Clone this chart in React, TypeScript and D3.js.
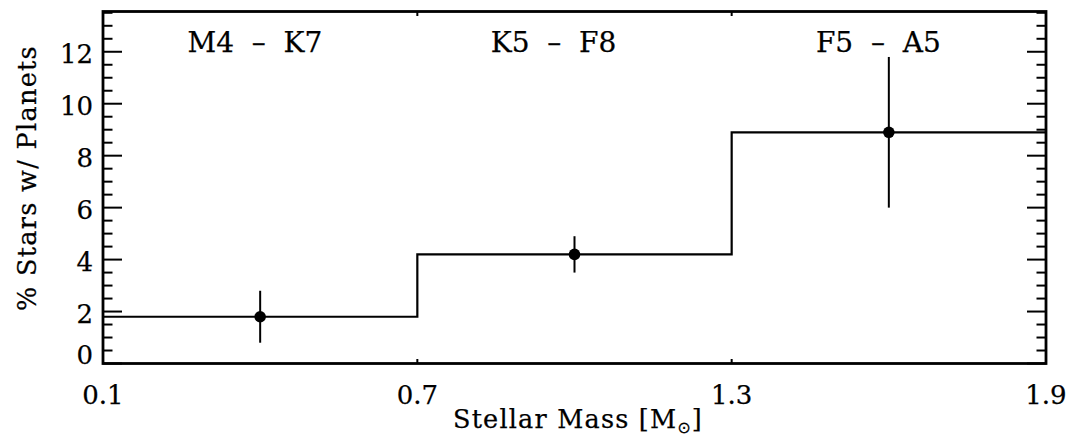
import React from "react";
import * as d3 from "d3";

// Planet occurrence by stellar mass bin
const binEdges = [0.1, 0.7, 1.3, 1.9];
const binCenters = [0.4, 1.0, 1.6];
const rates = [1.8, 4.2, 8.9];
const rateErrors = [1.0, 0.7, 2.9];
const spectralRanges = ["M4  \u2013  K7", "K5  \u2013  F8", "F5  \u2013  A5"];
const rangeLabelX = [0.39, 0.96, 1.58];
const xTickValues = [0.1, 0.7, 1.3, 1.9];
const yMajorTicks = [0, 2, 4, 6, 8, 10, 12];

const W = 1071;
const H = 447;
const margin = { left: 103, right: 25, top: 11.5, bottom: 83.5 };
const FONT = "'DejaVu Serif', 'Liberation Serif', serif";

export default function App() {
  const x = d3
    .scaleLinear()
    .domain([0.1, 1.9])
    .range([margin.left, W - margin.right]);
  const y = d3
    .scaleLinear()
    .domain([0, 13.55])
    .range([H - margin.bottom, margin.top]);

  const [x0, x1] = x.range();
  const [yb, yt] = y.range();

  const minorTicks = d3.range(0.5, 13.51, 0.5).filter((v) => !yMajorTicks.includes(v));

  const stepPoints: [number, number][] = binEdges.map((e, i) => [
    e,
    rates[Math.min(i, rates.length - 1)],
  ]);
  const stepLine = d3
    .line<[number, number]>()
    .x((d) => x(d[0]))
    .y((d) => y(d[1]))
    .curve(d3.curveStepAfter)(stepPoints) as string;

  const majorLen = 19;
  const minorLen = 9.5;
  const xTickLen = 4.5;

  const tickFont = 26;
  const textStroke = { stroke: "#000", strokeWidth: 0.25 };

  return (
    <svg
      width={W}
      height={H}
      style={{ position: "absolute", left: 0, top: 0, background: "#fff" }}
      fontFamily={FONT}
    >
      <rect x={0} y={0} width={W} height={H} fill="#fff" />

      {/* data: step histogram */}
      <path d={stepLine} fill="none" stroke="#000" strokeWidth={2.2} />

      {/* error bars and points */}
      {binCenters.map((c, i) => (
        <g key={i}>
          <line
            x1={x(c)}
            x2={x(c)}
            y1={y(rates[i] + rateErrors[i])}
            y2={y(rates[i] - rateErrors[i])}
            stroke="#000"
            strokeWidth={2}
          />
          <circle cx={x(c)} cy={y(rates[i])} r={5.8} fill="#000" />
        </g>
      ))}

      {/* y ticks, left and right */}
      {yMajorTicks.map((v) => (
        <g key={"M" + v} stroke="#000" strokeWidth={2}>
          <line x1={x0} x2={x0 + majorLen} y1={y(v)} y2={y(v)} />
          <line x1={x1} x2={x1 - majorLen} y1={y(v)} y2={y(v)} />
        </g>
      ))}
      {minorTicks.map((v) => (
        <g key={"m" + v} stroke="#000" strokeWidth={2}>
          <line x1={x0} x2={x0 + minorLen} y1={y(v)} y2={y(v)} />
          <line x1={x1} x2={x1 - minorLen} y1={y(v)} y2={y(v)} />
        </g>
      ))}

      {/* x ticks, bottom and top */}
      {xTickValues.map((v) => (
        <g key={"x" + v} stroke="#000" strokeWidth={2}>
          <line x1={x(v)} x2={x(v)} y1={yb} y2={yb - xTickLen} />
          <line x1={x(v)} x2={x(v)} y1={yt} y2={yt + xTickLen} />
        </g>
      ))}

      {/* frame */}
      <rect
        x={x0}
        y={yt}
        width={x1 - x0}
        height={yb - yt}
        fill="none"
        stroke="#000"
        strokeWidth={2.8}
      />

      {/* y tick labels */}
      {yMajorTicks.map((v) => {
        const cy = Math.min(y(v) + 2, yb - 8.5);
        return (
          <text
            key={"yl" + v}
            x={x0 - 10}
            y={cy}
            textAnchor="end"
            dominantBaseline="central"
            fontSize={tickFont}
            fill="#000"
            {...textStroke}
          >
            {v}
          </text>
        );
      })}

      {/* x tick labels */}
      {xTickValues.map((v) => (
        <text
          key={"xl" + v}
          x={x(v)}
          y={404}
          textAnchor="middle"
          fontSize={tickFont}
          fill="#000"
          {...textStroke}
        >
          {d3.format(".1f")(v)}
        </text>
      ))}

      {/* spectral type ranges */}
      {spectralRanges.map((s, i) => (
        <text
          key={s}
          x={x(rangeLabelX[i])}
          y={52}
          textAnchor="middle"
          fontSize={28}
          fill="#000"
          style={{ whiteSpace: "pre" }}
          {...textStroke}
        >
          {s}
        </text>
      ))}

      {/* axis titles */}
      <text
        x={578}
        y={428}
        textAnchor="middle"
        fontSize={25.5}
        letterSpacing={1.2}
        fill="#000"
        {...textStroke}
      >
        Stellar Mass [M
        <tspan fontSize={16} dy={5} fontFamily="'DejaVu Sans', sans-serif">
          ⊙
        </tspan>
        <tspan dy={-5}>]</tspan>
      </text>
      <text
        transform={`translate(${36},${178}) rotate(-90)`}
        textAnchor="middle"
        fontSize={25.5}
        letterSpacing={1.3}
        fill="#000"
        {...textStroke}
      >
        % Stars w/ Planets
      </text>
    </svg>
  );
}
